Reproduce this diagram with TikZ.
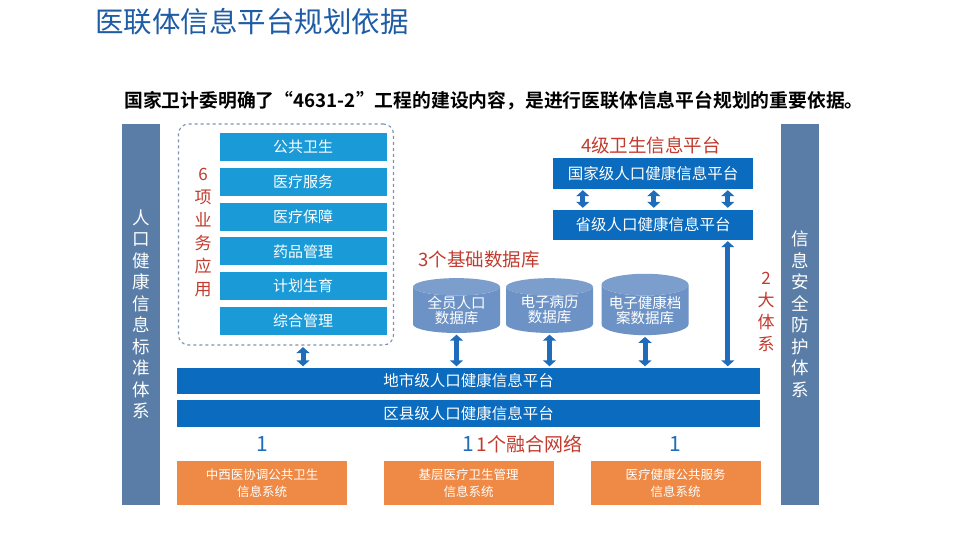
\documentclass[tikz,border=0pt]{standalone}
\usepackage{fontspec}
\setmainfont{Noto Sans CJK SC}[BoldFont={Noto Sans CJK SC Bold}]
\usepackage{xcolor}
\usetikzlibrary{positioning,arrows.meta,shapes.geometric}

\definecolor{titleblue}{HTML}{1F5CA6}
\definecolor{barblue}{HTML}{5A7DA7}
\definecolor{appblue}{HTML}{1A9AD6}
\definecolor{platblue}{HTML}{0A6BBF}
\definecolor{dbblue}{HTML}{6D93C6}
\definecolor{sysorange}{HTML}{EE8A46}
\definecolor{labelred}{HTML}{C23B2E}
\definecolor{arrowblue}{HTML}{1F6DBA}
\definecolor{dashgray}{HTML}{7A93B5}

\tikzset{
  sidebar/.style={fill=barblue, inner sep=0pt, minimum width=38pt, minimum height=381pt,
    text=white, align=center, font=\fontsize{17.5}{21.5}\selectfont},
  appbox/.style={fill=appblue, inner sep=0pt, minimum width=167pt, minimum height=28pt,
    text=white, font=\fontsize{15}{15}\selectfont},
  platbox/.style={fill=platblue, inner sep=0pt, minimum width=200pt, minimum height=30pt,
    text=white, font=\fontsize{15.5}{15.5}\selectfont},
  widebox/.style={fill=platblue, inner sep=0pt, minimum width=583pt, minimum height=26pt,
    text=white, font=\fontsize{15.5}{15.5}\selectfont},
  dbcyl/.style={cylinder, shape border rotate=90, aspect=0.3, inner sep=0pt,
    minimum width=87pt, minimum height=54pt, cylinder uses custom fill,
    cylinder body fill=dbblue, cylinder end fill=dbblue!90!white,
    text=white, align=center, font=\fontsize{14.5}{15}\selectfont},
  sysbox/.style={fill=sysorange, inner sep=0pt, minimum width=170pt, minimum height=44pt,
    text=white, align=center, font=\fontsize{12.5}{17}\selectfont},
  redlabel/.style={text=labelred, inner sep=0pt, font=\fontsize{18.5}{18.5}\selectfont},
  onelabel/.style={text=arrowblue, inner sep=0pt, font=\fontsize{21}{21}\selectfont},
  dbl/.style={{Triangle[width=13pt,length=6pt]}-{Triangle[width=13pt,length=6pt]},
    line width=5pt, arrowblue, shorten <=1.5pt, shorten >=1.5pt},
}

\begin{document}
\begin{tikzpicture}[x=1pt, y=-1pt]
  \useasboundingbox[fill=white] (0,0) rectangle (960,540);

  % Title and subtitle
  \node[anchor=west, inner sep=0pt, text=titleblue, font=\fontsize{28.5}{28.5}\selectfont]
    (title) at (95,22) {医联体信息平台规划依据};
  \node[inner sep=0pt, font=\fontsize{18.8}{18.8}\selectfont\bfseries] (subtitle) at (494,101)
    {国家卫计委明确了“4631-2”工程的建设内容，是进行医联体信息平台规划的重要依据。};

  % Side bars
  \node[sidebar] (stdbar) at (141,314.5)
    {人\\口\\健\\康\\信\\息\\标\\准\\体\\系};
  \node[sidebar] (secbar) at (800,314.5)
    {信\\息\\安\\全\\防\\护\\体\\系};

  % 6 business applications
  \node[draw=dashgray, dashed, line width=1.1pt, rounded corners=10pt, inner sep=0pt,
    minimum width=215pt, minimum height=221pt] (apps) at (286,234.5) {};
  \foreach \name [count=\i] in {公共卫生,医疗服务,医疗保障,药品管理,计划生育,综合管理}
    \node[appbox] (app\i) at (303,{147+34.8*(\i-1)}) {\name};
  \node[redlabel, align=center, font=\fontsize{17}{23}\selectfont] (applabel) at (203,233)
    {6\\项\\业\\务\\应\\用};

  % 4 level platforms
  \node[platbox] (nat) at (653,173.5) {国家级人口健康信息平台};
  \node[platbox] (prov) at (653,224.5) {省级人口健康信息平台};
  \node[redlabel] (platlabel) at (651,145) {4级卫生信息平台};

  % 3 base databases
  \node[dbcyl] (db1) at (456.5,310) {全员人口\\数据库};
  \node[dbcyl] (db2) at (549.5,310) {电子病历\\数据库};
  \node[dbcyl] (db3) at (645,310) {电子健康档\\案数据库};
  \node[redlabel] (dblabel) at (479,260) {3个基础数据库};

  % City and county platforms
  \node[widebox] (city) at (468.5,381) {地市级人口健康信息平台};
  \node[widebox, minimum height=27pt] (county) at (468.5,413.5) {区县级人口健康信息平台};

  \node[redlabel, align=center, font=\fontsize{17}{22}\selectfont] (syslabel) at (766,312)
    {2\\大\\体\\系};

  % Arrows
  \foreach \dx in {30,101,175}
    \draw[dbl] ([xshift=\dx pt]nat.south west) -- ([xshift=\dx pt]prov.north west);
  \coordinate (longtop) at ([xshift=175pt]prov.south west);
  \draw[dbl] (longtop) -- (city.north -| longtop);
  \draw[dbl] (apps.south -| app6.south) -- (city.north -| app6.south);
  \foreach \db in {db1,db2,db3}
    \draw[dbl] (\db.south) -- (city.north -| \db.south);

  % Information systems
  \node[sysbox] (sys1) at (262,483) {中西医协调公共卫生\\信息系统};
  \node[sysbox] (sys2) at (468.5,483) {基层医疗卫生管理\\信息系统};
  \node[sysbox] (sys3) at (675.5,483) {医疗健康公共服务\\信息系统};
  \node[onelabel, above=9pt of sys1] (one1) {1};
  \node[onelabel, above=9pt of sys2] (one2) {1};
  \node[onelabel, above=9pt of sys3] (one3) {1};
  \node[redlabel, anchor=west, font=\fontsize{19}{19}\selectfont] (netlabel)
    at ([xshift=2pt]one2.east) {1个融合网络};
\end{tikzpicture}
\end{document}
